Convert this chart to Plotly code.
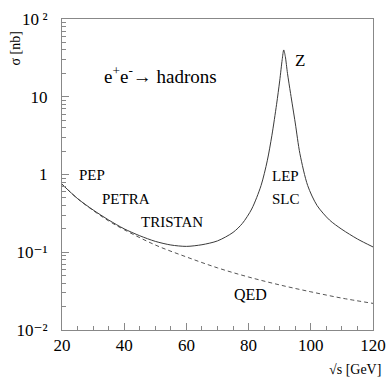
import plotly.graph_objects as go

# Hadronic cross section (solid)
sqrt_s_had = [20, 25, 30, 35, 40, 45, 50, 55, 60, 65, 70, 75, 78, 81, 84, 86, 87.5, 89, 90,
              90.8, 91.3, 91.8, 92.5, 93.5, 95, 96.5, 99, 102, 106, 110, 115, 120]
sigma_had = [0.75, 0.49, 0.35, 0.26, 0.20, 0.163, 0.138, 0.124, 0.119, 0.125, 0.14, 0.18, 0.235,
             0.36, 0.72, 1.5, 3.2, 8.0, 16, 30, 40, 33, 20, 11, 4.6, 1.85, 0.72, 0.40, 0.26,
             0.197, 0.148, 0.117]

# QED expectation (dashed)
sqrt_s_qed = [20, 25, 30, 35, 40, 50, 60, 70, 80, 90, 100, 110, 120]
sigma_qed = [0.75, 0.49, 0.345, 0.253, 0.195, 0.124, 0.087, 0.063, 0.048, 0.038, 0.031, 0.0257, 0.022]

x_ticks = [20, 40, 60, 80, 100, 120]
y_ticks = [0.01, 0.1, 1, 10, 100]
y_ticktext = ["10\u207b\u00b2", "10\u207b\u00b9", "1", "10", "10\u2009\u00b2"]
y_minor = [m * 10 ** k for k in range(-2, 2) for m in range(2, 10)]

FONT = "Times New Roman, Liberation Serif, DejaVu Serif, serif"
LINE = "#3a3a3a"
AXIS = "#888888"

fig = go.Figure()
fig.add_trace(go.Scatter(x=sqrt_s_qed, y=sigma_qed, mode="lines",
                         line=dict(color="#555555", width=1, dash="4px,3px", shape="spline"),
                         hoverinfo="skip"))
fig.add_trace(go.Scatter(x=sqrt_s_had, y=sigma_had, mode="lines",
                         line=dict(color=LINE, width=1, shape="spline", smoothing=0.8),
                         hoverinfo="skip"))

fig.update_layout(
    width=387, height=379,
    margin=dict(l=62, r=14, t=19, b=49),
    paper_bgcolor="white", plot_bgcolor="white",
    showlegend=False,
    font=dict(family=FONT, color="black"),
    xaxis=dict(range=[20, 120], tickvals=x_ticks, ticks="inside", ticklen=7,
               tickcolor=AXIS, showline=True, linecolor=AXIS, linewidth=1, mirror=True,
               showgrid=False, zeroline=False, automargin=False, ticklabeloverflow="allow",
               tickfont=dict(size=17, family=FONT, color="black"),
               minor=dict(dtick=5, ticks="inside", ticklen=4, tickcolor=AXIS)),
    yaxis=dict(type="log", range=[-2, 2], tickvals=y_ticks, ticktext=y_ticktext,
               ticks="inside", ticklen=7, tickcolor=AXIS, showline=True, linecolor=AXIS,
               linewidth=1, mirror=True, showgrid=False, zeroline=False, automargin=False,
               ticklabeloverflow="allow",
               tickfont=dict(size=17, family=FONT, color="black"), ticklabelstandoff=10,
               minor=dict(tickmode="array", tickvals=y_minor, ticks="inside", ticklen=4,
                          tickcolor=AXIS)),
)

labels = [
    ("PEP", 24.7, -0.004, 15),
    ("PETRA", 32.1, -0.313, 15),
    ("TRISTAN", 44.8, -0.605, 15),
    ("LEP", 86.8, -0.013, 15),
    ("SLC", 86.8, -0.313, 15),
    ("Z", 94.2, 1.467, 17),
    ("QED", 74.6, -1.539, 16),
]
for text, x, y, size in labels:
    fig.add_annotation(x=x, y=y, xref="x", yref="y", text=text, showarrow=False,
                       xanchor="left", yanchor="middle",
                       font=dict(family=FONT, size=size, color="black"))

fig.add_annotation(x=32.8, y=1.283, xref="x", yref="y",
                   text="e<sup>+</sup>e<sup>-</sup>→ hadrons", showarrow=False,
                   xanchor="left", yanchor="middle",
                   font=dict(family=FONT, size=19, color="black"))

fig.add_annotation(x=-0.149, y=0.904, xref="paper", yref="paper", text="σ [nb]",
                   textangle=-90, showarrow=False, xanchor="center", yanchor="middle",
                   font=dict(family=FONT, size=14, color="black"))
fig.add_annotation(x=1.031, y=-0.1255, xref="paper", yref="paper", text="√s [GeV]",
                   showarrow=False, xanchor="right", yanchor="middle",
                   font=dict(family=FONT, size=14, color="black"))

# remove the browser's default 8px body margin so the figure fills the window
fig.write_html("out.html", config={"displayModeBar": False},
               post_script="document.body.style.margin='0';")
